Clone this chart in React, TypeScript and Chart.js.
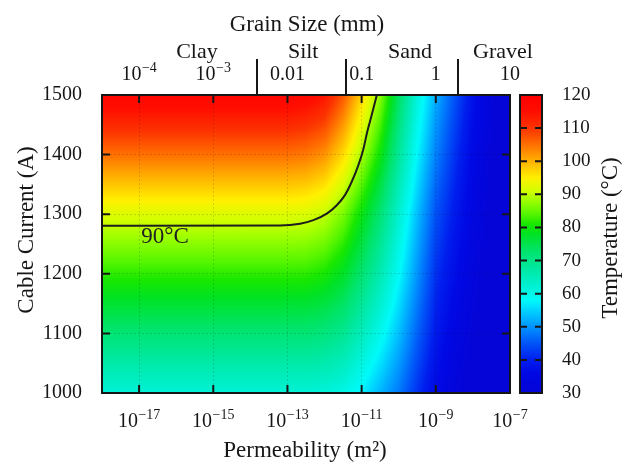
import React, { useEffect, useRef } from 'react';
import { Chart, registerables } from 'chart.js';

Chart.register(...registerables);

// ---------------- data ----------------
// Rows: cable current (A); columns: permeability exponent (m^2 = 10^e)
const CURRENT_ROWS = [1000, 1100, 1200, 1300, 1400, 1500];
const PERM_EXPONENTS = [-18, -13, -12.5, -12, -11.5, -11, -10.5, -10, -9.5, -9, -8.5, -8, -7.5, -7];

const TEMP_1000 = [62, 62, 62, 61.5, 60.4, 57.1, 52.6, 47.9, 41.8, 36.2, 31.9, 28.6, 25.3, 22.5];
const TEMP_1100 = [72, 72, 72, 71.2, 69.3, 64.9, 59.6, 53.4, 46.1, 39.2, 34.4, 30.7, 26.9, 23.7];
const TEMP_1200 = [82, 82, 81.9, 80.7, 77.8, 72.4, 66.1, 58.5, 50.0, 41.7, 37.1, 32.6, 28.1, 24.6];
const TEMP_1300 = [92, 92, 91.7, 90.2, 86.1, 79.5, 72.1, 62.9, 53.3, 44.6, 39.3, 34.2, 29.2, 25.5];
const TEMP_1400 = [105, 105, 104.4, 102.4, 96.8, 88.7, 79.9, 68.6, 57.7, 48.5, 42.0, 35.7, 30.5, 26.5];
const TEMP_1500 = [118, 118, 117.0, 114.4, 107.2, 97.4, 87.1, 73.7, 61.4, 52.1, 44.9, 37.7, 31.5, 27.4];
const TEMPERATURE_ROWS = [TEMP_1000, TEMP_1100, TEMP_1200, TEMP_1300, TEMP_1400, TEMP_1500];

// 90 °C contour
const CONTOUR_EXPONENTS = [-18, -13.2, -12.66, -12.3, -11.94, -11.67, -11.45, -11.27, -11.09, -10.95, -10.85, -10.73, -10.59];
const CONTOUR_CURRENT = [1280.5, 1281, 1284, 1290, 1301, 1315, 1332, 1354, 1382, 1410, 1438, 1466, 1500];
const CONTOUR_LABEL = '90°C';
const CONTOUR_LABEL_EXP = -16.3;
const CONTOUR_LABEL_CURRENT = 1261;

// axes
const X_MIN_EXP = -18;
const X_MAX_EXP = -7;
const X_TICK_EXPONENTS = [-17, -15, -13, -11, -9, -7];
const Y_MIN = 1000;
const Y_MAX = 1500;
const Y_STEP = 100;
const TEMP_MIN = 30;
const TEMP_MAX = 120;
const TEMP_STEP = 10;

// top axis: grain size (mm); permeability k = 1e-9 * d^2
const GRAIN_TICKS_MM = [1e-4, 1e-3, 0.01, 0.1, 1, 10];
const GRAIN_TICK_BASES = ['10', '10', '0.01', '0.1', '1', '10'];
const GRAIN_TICK_EXPS = ['−4', '−3', '', '', '', ''];
const GRAIN_CLASSES = ['Clay', 'Silt', 'Sand', 'Gravel'];
const GRAIN_BOUNDARIES_MM = [0.0039, 0.0625, 2];

const X_TITLE = 'Permeability (m²)';
const Y_TITLE = 'Cable Current (A)';
const TOP_TITLE = 'Grain Size (mm)';
const CBAR_TITLE = 'Temperature (°C)';

// ---------------- styles ----------------
const SERIF = '"Liberation Serif", "Times New Roman", serif';
const INK = '#161616';
const CLASS_LABEL_FRAC = [0.2327, 0.4931, 0.755, 0.9829];

// jet-like colormap: [value, r, g, b]
const CMAP: number[][] = [
  [30, 5, 5, 215],
  [36, 0, 8, 228],
  [40, 0, 30, 238],
  [45, 0, 85, 248],
  [50, 0, 148, 255],
  [55, 0, 212, 255],
  [58, 0, 250, 250],
  [63, 0, 240, 205],
  [68, 0, 232, 158],
  [73, 0, 228, 105],
  [78, 0, 226, 35],
  [81, 25, 232, 0],
  [84, 85, 245, 0],
  [88, 155, 255, 0],
  [91, 210, 255, 0],
  [95, 255, 240, 0],
  [100, 255, 178, 0],
  [105, 255, 112, 0],
  [110, 252, 52, 0],
  [115, 255, 14, 0],
  [120, 255, 0, 0],
];

function colorFor(v: number): [number, number, number] {
  const t = Math.max(CMAP[0][0], Math.min(CMAP[CMAP.length - 1][0], v));
  for (let k = 0; k < CMAP.length - 1; k++) {
    const a = CMAP[k];
    const b = CMAP[k + 1];
    if (t <= b[0]) {
      const f = (t - a[0]) / (b[0] - a[0]);
      return [a[1] + (b[1] - a[1]) * f, a[2] + (b[2] - a[2]) * f, a[3] + (b[3] - a[3]) * f];
    }
  }
  const l = CMAP[CMAP.length - 1];
  return [l[1], l[2], l[3]];
}

function locate(arr: number[], v: number): [number, number] {
  let i = 0;
  while (i < arr.length - 2 && v > arr[i + 1]) i++;
  let f = (v - arr[i]) / (arr[i + 1] - arr[i]);
  f = Math.max(0, Math.min(1, f));
  return [i, f];
}

function sampleTemperature(exp: number, current: number): number {
  const [j, tx] = locate(PERM_EXPONENTS, exp);
  const [i, ty] = locate(CURRENT_ROWS, current);
  const r0 = TEMPERATURE_ROWS[i];
  const r1 = TEMPERATURE_ROWS[i + 1];
  const a = r0[j] + (r0[j + 1] - r0[j]) * tx;
  const b = r1[j] + (r1[j + 1] - r1[j]) * tx;
  return a + (b - a) * ty;
}

function drawPow(ctx: CanvasRenderingContext2D, cx: number, baseline: number, base: string, exp: string, size: number, expSize: number) {
  ctx.font = `${size}px ${SERIF}`;
  const wb = ctx.measureText(base).width;
  ctx.font = `${expSize}px ${SERIF}`;
  const we = exp ? ctx.measureText(exp).width + 0.5 : 0;
  const x0 = cx - (wb + we) / 2;
  ctx.textAlign = 'left';
  ctx.textBaseline = 'alphabetic';
  ctx.font = `${size}px ${SERIF}`;
  ctx.fillText(base, x0, baseline);
  if (exp) {
    ctx.font = `${expSize}px ${SERIF}`;
    ctx.fillText(exp, x0 + wb + 0.5, baseline - size * 0.38);
  }
}

const fieldPlugin = {
  id: 'thermalField',
  beforeDraw(chart: any) {
    const { ctx, chartArea: ca, scales } = chart;
    const left = Math.round(ca.left);
    const top = Math.round(ca.top);
    const w = Math.round(ca.right) - left;
    const h = Math.round(ca.bottom) - top;
    const off = document.createElement('canvas');
    off.width = w;
    off.height = h;
    const octx = off.getContext('2d')!;
    const img = octx.createImageData(w, h);
    const exps: number[] = [];
    for (let px = 0; px < w; px++) exps.push(Math.log10(scales.x.getValueForPixel(left + px + 0.5)));
    for (let py = 0; py < h; py++) {
      const cur = scales.y.getValueForPixel(top + py + 0.5);
      for (let px = 0; px < w; px++) {
        const c = colorFor(sampleTemperature(exps[px], cur));
        const o = (py * w + px) * 4;
        img.data[o] = c[0];
        img.data[o + 1] = c[1];
        img.data[o + 2] = c[2];
        img.data[o + 3] = 255;
      }
    }
    octx.putImageData(img, 0, 0);
    ctx.save();
    ctx.drawImage(off, left, top);
    ctx.restore();
  },
  afterDraw(chart: any) {
    const { ctx, chartArea: ca, scales } = chart;
    const x = scales.x;
    const y = scales.y;
    const yc = scales.yc;
    const xg = scales.xg;
    ctx.save();

    // inner tick marks
    ctx.strokeStyle = INK;
    ctx.lineWidth = 2;
    const tl = 8;
    X_TICK_EXPONENTS.forEach((e) => {
      const px = x.getPixelForValue(Math.pow(10, e));
      if (px > ca.left + 2 && px < ca.right - 2) {
        ctx.beginPath();
        ctx.moveTo(px, ca.bottom);
        ctx.lineTo(px, ca.bottom - tl);
        ctx.moveTo(px, ca.top);
        ctx.lineTo(px, ca.top + tl);
        ctx.stroke();
      }
    });
    for (let v = Y_MIN + Y_STEP; v < Y_MAX; v += Y_STEP) {
      const py = y.getPixelForValue(v);
      ctx.beginPath();
      ctx.moveTo(ca.left, py);
      ctx.lineTo(ca.left + tl, py);
      ctx.moveTo(ca.right, py);
      ctx.lineTo(ca.right - tl, py);
      ctx.stroke();
    }
    // frame
    ctx.strokeRect(ca.left, ca.top, ca.right - ca.left, ca.bottom - ca.top);

    // grain class separators
    ctx.lineWidth = 2;
    GRAIN_BOUNDARIES_MM.forEach((d) => {
      const px = Math.round(xg.getPixelForValue(d));
      ctx.beginPath();
      ctx.moveTo(px, 59);
      ctx.lineTo(px, ca.top);
      ctx.stroke();
    });

    // colour bar
    const cbL = ca.right + 10;
    const cbW = 22;
    const cbT = yc.top;
    const cbB = yc.bottom;
    for (let py = Math.floor(cbT); py < Math.ceil(cbB); py++) {
      const v = yc.getValueForPixel(py + 0.5);
      const c = colorFor(v);
      ctx.fillStyle = `rgb(${c[0] | 0},${c[1] | 0},${c[2] | 0})`;
      ctx.fillRect(cbL, py, cbW, 1);
    }
    ctx.strokeStyle = INK;
    ctx.lineWidth = 2;
    for (let v = TEMP_MIN + TEMP_STEP; v < TEMP_MAX; v += TEMP_STEP) {
      const py = yc.getPixelForValue(v);
      ctx.beginPath();
      ctx.moveTo(cbL, py);
      ctx.lineTo(cbL + 7, py);
      ctx.moveTo(cbL + cbW, py);
      ctx.lineTo(cbL + cbW - 7, py);
      ctx.stroke();
    }
    ctx.strokeRect(cbL, cbT, cbW, cbB - cbT);

    ctx.fillStyle = INK;
    // bottom tick labels
    X_TICK_EXPONENTS.forEach((e) => {
      const px = x.getPixelForValue(Math.pow(10, e));
      drawPow(ctx, px, 427, '10', '−' + String(-e), 20, 14);
    });
    // top tick labels
    GRAIN_TICKS_MM.forEach((d, i) => {
      const px = xg.getPixelForValue(d);
      drawPow(ctx, px, 80, GRAIN_TICK_BASES[i], GRAIN_TICK_EXPS[i], 20, 14);
    });
    // grain classes
    ctx.font = `22px ${SERIF}`;
    ctx.textAlign = 'center';
    ctx.textBaseline = 'alphabetic';
    GRAIN_CLASSES.forEach((name, i) => {
      const px = ca.left + CLASS_LABEL_FRAC[i] * (ca.right - ca.left);
      ctx.fillText(name, px, 58);
    });
    // titles
    ctx.font = `23px ${SERIF}`;
    ctx.fillText(TOP_TITLE, (ca.left + ca.right) / 2 + 1, 31);
    ctx.fillText(X_TITLE, (ca.left + ca.right) / 2 - 1, 457);
    ctx.textBaseline = 'middle';
    ctx.save();
    ctx.translate(27, 230);
    ctx.rotate(-Math.PI / 2);
    ctx.fillText(Y_TITLE, 0, 0);
    ctx.restore();
    ctx.save();
    ctx.translate(611, 238);
    ctx.rotate(-Math.PI / 2);
    ctx.fillText(CBAR_TITLE, 0, 0);
    ctx.restore();
    // contour label
    ctx.font = `23px ${SERIF}`;
    ctx.fillStyle = '#222';
    ctx.fillText(CONTOUR_LABEL, x.getPixelForValue(Math.pow(10, CONTOUR_LABEL_EXP)), y.getPixelForValue(CONTOUR_LABEL_CURRENT));
    ctx.restore();
  },
};

export default function App() {
  const canvasRef = useRef<HTMLCanvasElement | null>(null);

  useEffect(() => {
    document.body.style.margin = '0';
    const canvas = canvasRef.current;
    if (!canvas) return;

    const contourData = CONTOUR_EXPONENTS.map((e, i) => ({ x: Math.pow(10, e), y: CONTOUR_CURRENT[i] }));
    const gridColor = 'rgba(0,0,0,0.14)';

    const chart = new Chart(canvas, {
      type: 'scatter',
      data: {
        datasets: [
          {
            label: CONTOUR_LABEL,
            data: contourData,
            showLine: true,
            borderColor: '#1e1e1e',
            borderWidth: 2,
            pointRadius: 0,
            cubicInterpolationMode: 'monotone',
            xAxisID: 'x',
            yAxisID: 'y',
          } as any,
        ],
      },
      options: {
        animation: false,
        responsive: false,
        events: [],
        layout: { padding: { top: 95, left: 0, right: 0, bottom: 0 } },
        plugins: { legend: { display: false }, tooltip: { enabled: false } },
        scales: {
          x: {
            type: 'logarithmic',
            position: 'bottom',
            min: Math.pow(10, X_MIN_EXP),
            max: Math.pow(10, X_MAX_EXP),
            afterBuildTicks: (s: any) => {
              s.ticks = X_TICK_EXPONENTS.map((e) => ({ value: Math.pow(10, e) }));
            },
            afterFit: (s: any) => {
              s.height = 71;
            },
            ticks: { display: false },
            grid: { color: gridColor, lineWidth: 1, drawTicks: false },
            border: { display: false, dash: [2, 2] },
          },
          xg: {
            type: 'logarithmic',
            position: 'top',
            display: false,
            min: Math.sqrt(Math.pow(10, X_MIN_EXP) / 1e-9),
            max: Math.sqrt(Math.pow(10, X_MAX_EXP) / 1e-9),
          },
          y: {
            type: 'linear',
            position: 'left',
            min: Y_MIN,
            max: Y_MAX,
            afterFit: (s: any) => {
              s.width = 102;
            },
            ticks: {
              stepSize: Y_STEP,
              padding: 20,
              color: INK,
              font: { family: SERIF, size: 20 },
              callback: (v: any) => String(v),
            },
            grid: { color: gridColor, lineWidth: 1, drawTicks: false },
            border: { display: false, dash: [2, 2] },
          },
          yc: {
            type: 'linear',
            position: 'right',
            min: TEMP_MIN,
            max: TEMP_MAX,
            afterFit: (s: any) => {
              s.width = 124;
            },
            ticks: {
              stepSize: TEMP_STEP,
              padding: 52,
              color: INK,
              font: { family: SERIF, size: 19 },
              callback: (v: any) => String(v),
            },
            grid: { display: false, drawTicks: false },
            border: { display: false },
          },
        } as any,
      },
      plugins: [fieldPlugin],
    });

    return () => {
      chart.destroy();
    };
  }, []);

  return (
    <div style={{ width: 634, height: 464, background: '#ffffff' }}>
      <canvas ref={canvasRef} width={634} height={464} style={{ display: 'block' }} />
    </div>
  );
}
